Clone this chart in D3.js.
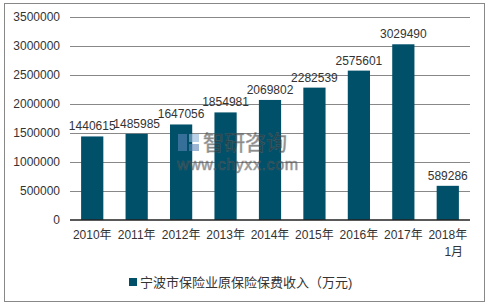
<!DOCTYPE html>
<html>
<head>
<meta charset="utf-8">
<script src="https://cdn.jsdelivr.net/npm/d3@7"></script>
<style>
  body { margin: 0; background: #fff; }
  text { font-family: "Liberation Sans", Arial, "Noto Sans CJK SC", sans-serif; fill: #333; }
</style>
</head>
<body>
<script>
// data
var years = ["2010年", "2011年", "2012年", "2013年", "2014年", "2015年", "2016年", "2017年", "2018年\n1月"];
var premiums = [1440615, 1485985, 1647056, 1854981, 2069802, 2282539, 2575601, 3029490, 589286];
var yTicks = [0, 500000, 1000000, 1500000, 2000000, 2500000, 3000000, 3500000];
var seriesName = "宁波市保险业原保险保费收入（万元)";

var W = 491, H = 306;
var color = "#00506a";
var margin = { left: 70, right: 21, top: 17, bottom: 86 };

var svg = d3.select("body").append("svg")
    .attr("width", W)
    .attr("height", H);

// outer frame
svg.append("rect")
   .attr("x", 4.5).attr("y", 3.5)
   .attr("width", 480).attr("height", 298)
   .attr("fill", "#fff")
   .attr("stroke", "#888");

var x = d3.scaleBand()
    .domain(years)
    .range([margin.left, W - margin.right])
    .paddingInner(0.5)
    .paddingOuter(0.25);

var y = d3.scaleLinear()
    .domain([0, 3500000])
    .range([H - margin.bottom, margin.top]);

// gridlines
svg.append("g").selectAll("line")
   .data(yTicks.slice(1)).enter()
   .append("line")
   .attr("x1", margin.left).attr("x2", W - margin.right)
   .attr("y1", function(d) { return Math.round(y(d)) + 0.5; })
   .attr("y2", function(d) { return Math.round(y(d)) + 0.5; })
   .attr("stroke", "#888");

// y axis labels
var yAxis = d3.axisLeft(y).tickValues(yTicks).tickSize(0).tickPadding(10).tickFormat(d3.format("d"));
var gy = svg.append("g")
   .attr("transform", "translate(" + margin.left + ",0)")
   .call(yAxis);
gy.select(".domain").remove();
gy.selectAll("text").style("font-size", "12px").attr("fill", "#333");

// bars
svg.append("g").selectAll("rect")
   .data(premiums).enter()
   .append("rect")
   .attr("x", function(d, i) { return x(years[i]); })
   .attr("y", function(d) { return y(d); })
   .attr("width", x.bandwidth())
   .attr("height", function(d) { return y(0) - y(d); })
   .attr("fill", color);

// watermark (on top of the bars)
var wm = svg.append("g").attr("opacity", 0.6);
wm.append("rect").attr("x", 178).attr("y", 134).attr("width", 9).attr("height", 17).attr("fill", "#5b86b8");
wm.append("rect").attr("x", 189).attr("y", 134).attr("width", 10).attr("height", 8).attr("fill", "#8fb3d9");
wm.append("rect").attr("x", 189).attr("y", 144).attr("width", 10).attr("height", 7).attr("fill", "#5b86b8");
wm.append("text").attr("x", 203).attr("y", 150)
  .style("font-size", "21px").style("font-family", "Noto Sans CJK SC")
  .attr("fill", "#d0d0d0").attr("stroke", "#666").attr("stroke-width", 0.6)
  .text("智研咨询");
wm.append("text").attr("x", 177).attr("y", 170)
  .style("font-size", "16px").style("letter-spacing", "0.6px")
  .attr("fill", "#d0d0d0").attr("stroke", "#666").attr("stroke-width", 0.6)
  .text("www.chyxx.com");

// value labels
svg.append("g").selectAll("text")
   .data(premiums).enter()
   .append("text")
   .attr("x", function(d, i) { return x(years[i]) + x.bandwidth() / 2; })
   .attr("y", function(d) { return y(d) - 6; })
   .attr("text-anchor", "middle")
   .style("font-size", "12px")
   .text(function(d) { return d; });

// x axis
var xAxis = d3.axisBottom(x).tickSize(0).tickPadding(10);
var gx = svg.append("g")
   .attr("transform", "translate(0," + y(0) + ")")
   .call(xAxis);
gx.select(".domain").attr("stroke", "#222").attr("stroke-width", 1.5)
  .attr("d", "M" + margin.left + ",0H" + (W - margin.right));
gx.selectAll("text").style("font-size", "12px").attr("fill", "#333")
  .each(function(d) {
    var parts = d.split("\n");
    var t = d3.select(this).text(null);
    parts.forEach(function(p, k) {
      t.append("tspan").attr("x", k == 0 ? 0 : 6).attr("dy", k == 0 ? "0.71em" : "1.45em").text(p);
    });
  });

// legend
var lg = svg.append("g").attr("transform", "translate(129,278)");
lg.append("rect").attr("width", 8).attr("height", 8).attr("fill", color);
lg.append("text").attr("x", 11).attr("y", 9)
  .style("font-size", "13px")
  .text(seriesName);
</script>
</body>
</html>
